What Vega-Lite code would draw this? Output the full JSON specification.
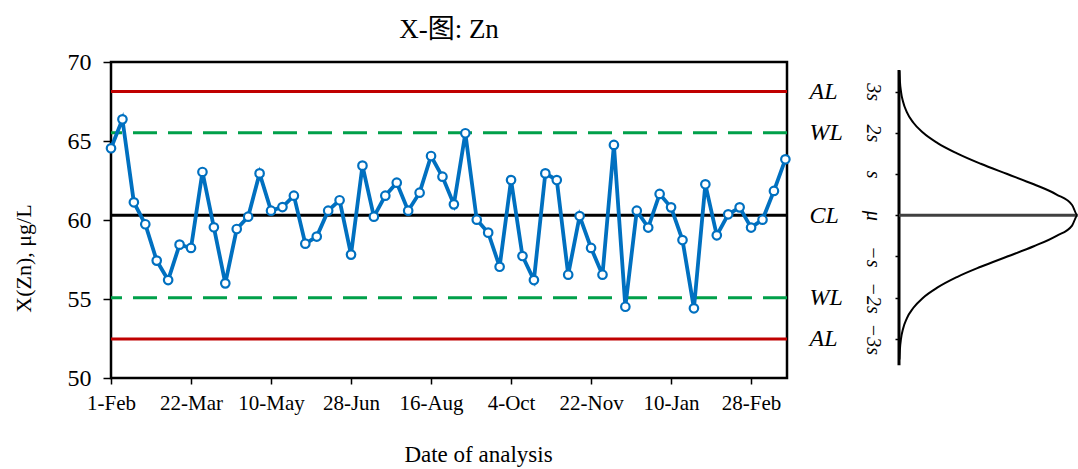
{
  "$schema": "https://vega.github.io/schema/vega-lite/v6.json",
  "padding": {"left": 10, "top": 14, "right": 0, "bottom": 0},
  "bounds": "flush",
  "spacing": 112,
  "config": {
    "font": "Liberation Serif",
    "view": {"stroke": null},
    "axis": {"grid": false, "labelFont": "Liberation Serif", "titleFont": "Liberation Serif", "labelColor": "black", "titleColor": "black", "tickColor": "black", "domainColor": "black", "titleFontWeight": "normal"}
  },
  "hconcat": [
    {
      "width": 676,
      "height": 316,
      "view": {"stroke": "black", "strokeWidth": 2.5},
      "title": {"text": "X-图: Zn", "font": "Liberation Serif, Noto Sans CJK SC", "fontSize": 27, "fontWeight": "normal", "color": "black", "anchor": "middle", "baseline": "alphabetic", "offset": -15},
      "layer": [
        {
          "data": {"values": [
            {"kind": "AL", "lim": 68.13},
            {"kind": "WL", "lim": 65.52},
            {"kind": "CL", "lim": 60.3},
            {"kind": "WL", "lim": 55.08},
            {"kind": "AL", "lim": 52.47}
          ]},
          "mark": {"type": "rule", "strokeWidth": 3},
          "encoding": {
            "y": {"field": "lim", "type": "quantitative", "scale": {"domain": [50, 70], "nice": false, "zero": false},
              "axis": {"orient": "right", "values": [52.47, 55.08, 60.3, 65.52, 68.13],
                "labelExpr": "datum.value > 67 ? 'AL' : datum.value > 63 ? 'WL' : datum.value > 58 ? 'CL' : datum.value > 54 ? 'WL' : 'AL'",
                "ticks": false, "domain": false, "labelPadding": 22, "labelFontSize": 24, "labelFontStyle": "italic",
                "labelFlush": false, "labelOverlap": false, "labelBound": false, "labelAlign": "left", "labelBaseline": "middle", "title": null}},
            "color": {"field": "kind", "type": "nominal", "scale": {"domain": ["AL", "WL", "CL"], "range": ["#C00000", "#00A04A", "black"]}, "legend": null},
            "strokeDash": {"field": "kind", "type": "nominal", "scale": {"domain": ["AL", "WL", "CL"], "range": [[1, 0], [24, 11], [1, 0]]}, "legend": null}
          }
        },
        {
          "data": {"values": [
            {"date": "2013-02-01", "zn": 64.54},
            {"date": "2013-02-08", "zn": 66.37},
            {"date": "2013-02-15", "zn": 61.12},
            {"date": "2013-02-22", "zn": 59.73},
            {"date": "2013-03-01", "zn": 57.43},
            {"date": "2013-03-08", "zn": 56.20},
            {"date": "2013-03-15", "zn": 58.44},
            {"date": "2013-03-22", "zn": 58.23},
            {"date": "2013-03-29", "zn": 63.04},
            {"date": "2013-04-05", "zn": 59.54},
            {"date": "2013-04-12", "zn": 55.99},
            {"date": "2013-04-19", "zn": 59.43},
            {"date": "2013-04-26", "zn": 60.21},
            {"date": "2013-05-03", "zn": 62.95},
            {"date": "2013-05-10", "zn": 60.59},
            {"date": "2013-05-17", "zn": 60.82},
            {"date": "2013-05-24", "zn": 61.54},
            {"date": "2013-05-31", "zn": 58.50},
            {"date": "2013-06-07", "zn": 58.95},
            {"date": "2013-06-14", "zn": 60.59},
            {"date": "2013-06-21", "zn": 61.25},
            {"date": "2013-06-28", "zn": 57.81},
            {"date": "2013-07-05", "zn": 63.44},
            {"date": "2013-07-12", "zn": 60.21},
            {"date": "2013-07-19", "zn": 61.54},
            {"date": "2013-07-26", "zn": 62.36},
            {"date": "2013-08-02", "zn": 60.59},
            {"date": "2013-08-09", "zn": 61.73},
            {"date": "2013-08-16", "zn": 64.05},
            {"date": "2013-08-23", "zn": 62.74},
            {"date": "2013-08-30", "zn": 60.99},
            {"date": "2013-09-06", "zn": 65.49},
            {"date": "2013-09-13", "zn": 60.02},
            {"date": "2013-09-20", "zn": 59.20},
            {"date": "2013-09-27", "zn": 57.04},
            {"date": "2013-10-04", "zn": 62.53},
            {"date": "2013-10-11", "zn": 57.72},
            {"date": "2013-10-18", "zn": 56.20},
            {"date": "2013-10-25", "zn": 62.95},
            {"date": "2013-11-01", "zn": 62.53},
            {"date": "2013-11-08", "zn": 56.54},
            {"date": "2013-11-15", "zn": 60.25},
            {"date": "2013-11-22", "zn": 58.23},
            {"date": "2013-11-29", "zn": 56.54},
            {"date": "2013-12-06", "zn": 64.75},
            {"date": "2013-12-13", "zn": 54.51},
            {"date": "2013-12-20", "zn": 60.59},
            {"date": "2013-12-27", "zn": 59.52},
            {"date": "2014-01-03", "zn": 61.65},
            {"date": "2014-01-10", "zn": 60.80},
            {"date": "2014-01-17", "zn": 58.73},
            {"date": "2014-01-24", "zn": 54.41},
            {"date": "2014-01-31", "zn": 62.26},
            {"date": "2014-02-07", "zn": 59.03},
            {"date": "2014-02-14", "zn": 60.36},
            {"date": "2014-02-21", "zn": 60.80},
            {"date": "2014-02-28", "zn": 59.52},
            {"date": "2014-03-07", "zn": 60.02},
            {"date": "2014-03-14", "zn": 61.84},
            {"date": "2014-03-21", "zn": 63.84}
          ]},
          "mark": {"type": "line", "color": "#0070C0", "strokeWidth": 3.8,
            "point": {"filled": false, "fill": "white", "stroke": "#0070C0", "strokeWidth": 2.2, "size": 72, "opacity": 1}},
          "encoding": {
            "x": {"field": "date", "type": "temporal",
              "scale": {"type": "utc", "domain": [{"year": 2013, "month": 2, "date": 1, "utc": true}, {"year": 2014, "month": 3, "date": 22, "utc": true}]},
              "axis": {"values": [
                  {"year": 2013, "month": 2, "date": 1, "utc": true},
                  {"year": 2013, "month": 3, "date": 22, "utc": true},
                  {"year": 2013, "month": 5, "date": 10, "utc": true},
                  {"year": 2013, "month": 6, "date": 28, "utc": true},
                  {"year": 2013, "month": 8, "date": 16, "utc": true},
                  {"year": 2013, "month": 10, "date": 4, "utc": true},
                  {"year": 2013, "month": 11, "date": 22, "utc": true},
                  {"year": 2014, "month": 1, "date": 10, "utc": true},
                  {"year": 2014, "month": 2, "date": 28, "utc": true}
                ],
                "labelExpr": "utcFormat(datum.value, '%-d-%b')", "labelFontSize": 21, "labelPadding": 8, "tickSize": 6, "tickWidth": 1.5, "domain": false,
                "labelFlush": false, "labelOverlap": false, "labelBound": false,
                "title": "Date of analysis", "titleFontSize": 23, "titleX": 367, "titleY": 83, "titleAlign": "center", "titleBaseline": "alphabetic"}},
            "y": {"field": "zn", "type": "quantitative", "scale": {"domain": [50, 70], "nice": false, "zero": false},
              "axis": {"values": [50, 55, 60, 65, 70], "title": "X(Zn), μg/L", "titleFontSize": 22, "titleX": -88, "titleY": 196, "titleAngle": -90, "titleAlign": "center", "titleBaseline": "middle",
                "labelFontSize": 24, "labelPadding": 12, "tickSize": 8, "tickWidth": 1.5, "domain": false, "labelFlush": false, "labelOverlap": false, "labelBound": false}}
          }
        }
      ],
      "resolve": {"axis": {"y": "independent"}}
    },
    {
      "width": 180,
      "height": 316,
      "view": {"stroke": null},
      "encoding": {
        "y": {"field": "v", "type": "quantitative", "scale": {"domain": [50, 70], "nice": false, "zero": false},
          "axis": {"orient": "left", "values": [52.47, 55.08, 57.69, 60.3, 62.91, 65.52, 68.13],
            "labelExpr": "datum.value > 67 ? '3s' : datum.value > 64 ? '2s' : datum.value > 62 ? 's' : datum.value > 59 ? 'μ' : datum.value > 56 ? '−s' : datum.value > 54 ? '−2s' : '−3s'",
            "labelAngle": 90, "labelAlign": "center", "labelBaseline": "middle", "labelPadding": 23, "labelFontSize": 20, "labelFontStyle": "italic",
            "tickSize": 4, "tickWidth": 1.5, "domain": false, "title": null, "labelFlush": false, "labelOverlap": false, "labelBound": false}}
      },
      "layer": [
        {
          "data": {"values": [{"v": 69.5, "v2": 50.8}]},
          "mark": {"type": "rule", "strokeWidth": 3, "color": "black"},
          "encoding": {
            "x": {"datum": 0, "type": "quantitative", "scale": {"domain": [0, 1.008], "nice": false, "zero": false}, "axis": null},
            "y2": {"field": "v2"}
          }
        },
        {
          "data": {"values": [{"v": 60.3}]},
          "mark": {"type": "rule", "strokeWidth": 3, "color": "#404040"},
          "encoding": {
            "x": {"datum": 0, "type": "quantitative", "axis": null},
            "x2": {"datum": 1}
          }
        },
        {
          "data": {"values": [
            {"v": 51.17, "dens": 0.0022},
            {"v": 51.82, "dens": 0.0051},
            {"v": 52.47, "dens": 0.0111},
            {"v": 53.12, "dens": 0.0228},
            {"v": 53.78, "dens": 0.0439},
            {"v": 54.43, "dens": 0.0796},
            {"v": 55.08, "dens": 0.1353},
            {"v": 55.73, "dens": 0.2163},
            {"v": 56.39, "dens": 0.3247},
            {"v": 57.04, "dens": 0.4578},
            {"v": 57.69, "dens": 0.6065},
            {"v": 58.34, "dens": 0.7548},
            {"v": 59.0, "dens": 0.8825},
            {"v": 59.65, "dens": 0.9692},
            {"v": 60.3, "dens": 1.0},
            {"v": 60.95, "dens": 0.9692},
            {"v": 61.61, "dens": 0.8825},
            {"v": 62.26, "dens": 0.7548},
            {"v": 62.91, "dens": 0.6065},
            {"v": 63.56, "dens": 0.4578},
            {"v": 64.22, "dens": 0.3247},
            {"v": 64.87, "dens": 0.2163},
            {"v": 65.52, "dens": 0.1353},
            {"v": 66.17, "dens": 0.0796},
            {"v": 66.83, "dens": 0.0439},
            {"v": 67.48, "dens": 0.0228},
            {"v": 68.13, "dens": 0.0111},
            {"v": 68.78, "dens": 0.0051},
            {"v": 69.44, "dens": 0.0022}
          ]},
          "mark": {"type": "line", "color": "black", "strokeWidth": 2, "interpolate": "monotone"},
          "encoding": {
            "x": {"field": "dens", "type": "quantitative", "axis": null},
            "order": {"field": "v", "type": "quantitative"}
          }
        }
      ]
    }
  ]
}
